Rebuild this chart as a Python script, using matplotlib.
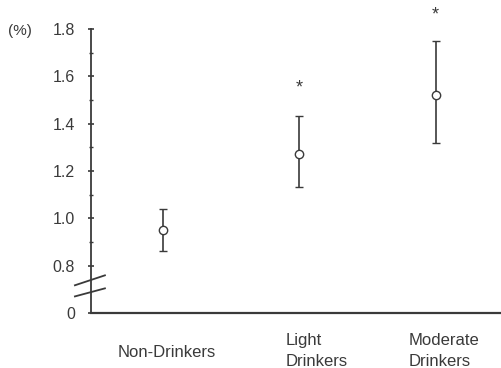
import matplotlib.pyplot as plt
from matplotlib.ticker import FixedLocator

# data (the y axis is broken: 0.6 on the scale is drawn as "0")
groups = [["Non-Drinkers"], ["Light", "Drinkers"], ["Moderate", "Drinkers"]]
means = [0.95, 1.27, 1.52]
upper = [1.04, 1.43, 1.75]
lower = [0.86, 1.13, 1.32]
signif = [False, True, True]
star_y = [None, 1.55, 1.86]

ytick_vals = [0.6, 0.8, 1.0, 1.2, 1.4, 1.6, 1.8]
ytick_labels = ["0", "0.8", "1.0", "1.2", "1.4", "1.6", "1.8"]
yminor_vals = [0.9, 1.1, 1.3, 1.5, 1.7]

plt.rcParams['font.family'] = ['Liberation Sans', 'DejaVu Sans']
col = '#3a3a3a'

fig = plt.figure(figsize=(5.02, 3.68), dpi=100)
ax = fig.add_axes([0.1813, 0.1495, 0.8187, 0.8364])

x = list(range(len(groups)))
yerr = [[m - l for m, l in zip(means, lower)], [u - m for m, u in zip(means, upper)]]
ax.errorbar(x, means, yerr=yerr, fmt='o', color=col, ecolor=col, elinewidth=1.2,
            capsize=3, capthick=1.6, markersize=6, markerfacecolor='white',
            markeredgecolor=col, markeredgewidth=1.0, zorder=3)

for xi, s, sy in zip(x, signif, star_y):
    if s:
        ax.text(xi, sy, "*", ha='center', va='center', fontsize=13, color=col)

ax.set_xlim(-0.528, 2.487)
ax.set_ylim(0.6, 1.9)

for side in ['top', 'right']:
    ax.spines[side].set_visible(False)
ax.spines['left'].set_bounds(0.6, 1.8)
ax.spines['left'].set_color(col)
ax.spines['bottom'].set_color(col)
ax.spines['left'].set_linewidth(1.3)
ax.spines['bottom'].set_linewidth(1.6)

ax.set_yticks(ytick_vals)
ax.set_yticklabels(ytick_labels)
ax.yaxis.set_minor_locator(FixedLocator(yminor_vals))
ax.tick_params(axis='y', which='major', direction='inout', length=4, width=1.2,
               colors=col, labelsize=11.5, pad=9.5)
ax.tick_params(axis='y', which='minor', direction='inout', length=3, width=1.0, colors=col)
ax.set_xticks([])

# "(%)" unit label
ax.text(-0.202, 1.79, "(%)", transform=ax.get_yaxis_transform(), ha='left', va='center',
        fontsize=11, color=col)

# axis break marks
bx = [-0.646, -0.426]
ax.plot(bx, [0.670, 0.704], color=col, lw=1.3, clip_on=False, zorder=5)
ax.plot(bx, [0.717, 0.759], color=col, lw=1.3, clip_on=False, zorder=5)

# category labels (left aligned, as in the original)
label_dx = [-0.33, -0.10, -0.20]
line_y = {1: [-0.143], 2: [-0.105, -0.172]}
trans = ax.get_xaxis_transform()
for xi, g, dx in zip(x, groups, label_dx):
    for line, ly in zip(g, line_y[len(g)]):
        ax.text(xi + dx, ly, line, transform=trans, ha='left', va='baseline',
                fontsize=12, color=col)

fig.savefig("out.png", dpi=100)
